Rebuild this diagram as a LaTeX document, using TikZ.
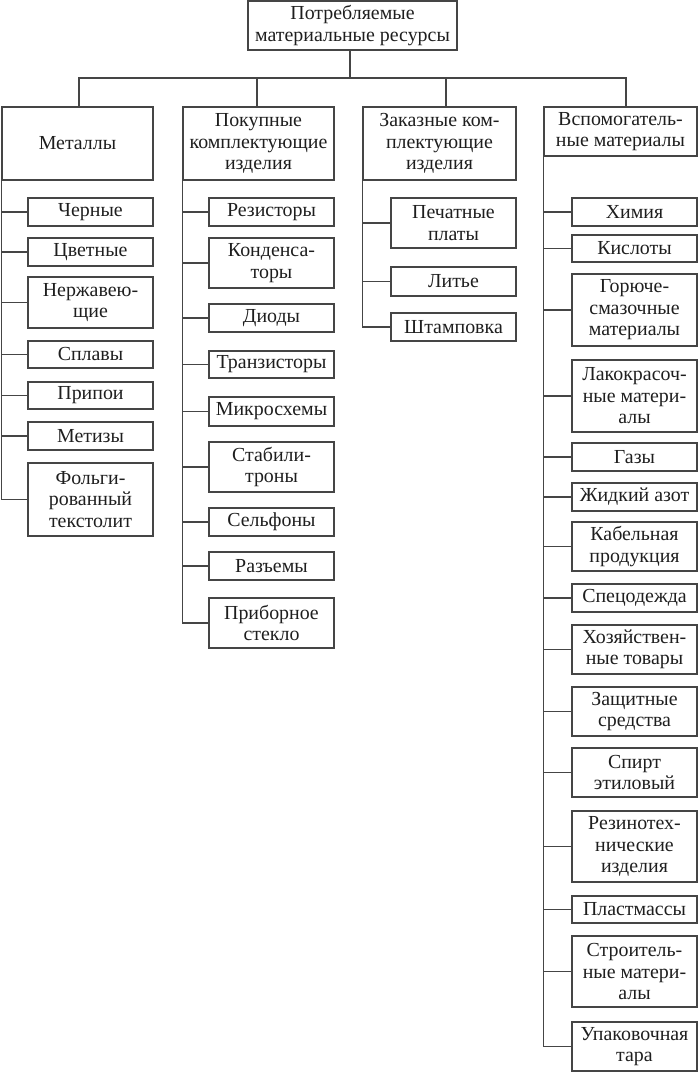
\documentclass[tikz,border=0pt]{standalone}
\usepackage{fontspec}
\setmainfont{Liberation Serif}
\definecolor{linegray}{HTML}{454545}
\definecolor{textgray}{HTML}{1E1E1E}
\newcommand\mybox[6]{\node[box,minimum width=#4pt,minimum height=#5pt] (#1) at (#2,#3) {#6};}
\begin{document}
\begin{tikzpicture}[x=1pt,y=-1pt,
  box/.style={draw=linegray,line width=1.2pt,text=textgray,align=center,inner sep=0pt,
    font=\fontsize{19.9}{21.5}\selectfont},
  conn/.style={draw=linegray,line width=1.2pt}]
\useasboundingbox (0,0) rectangle (698,1072);
% top
\mybox{top}{352.5}{25.5}{209}{49}{Потребляемые\\материальные ресурсы}
% level 1
\mybox{met}{77.5}{143.5}{151}{73}{Металлы}
\mybox{pok}{258.5}{143.5}{151}{73}{Покупные\\комплектующие\\изделия}
\mybox{zak}{439.5}{143.5}{153}{73}{Заказные ком-\\плектующие\\изделия}
\mybox{vsp}{620.5}{131.5}{153}{49}{Вспомогатель-\\ные материалы}
% bus
\coordinate (bus) at (0,78);
\draw[conn] ([xshift=-2.5pt]top.south) -- ([xshift=-2.5pt]top.south |- bus);
\draw[conn] ([xshift=1.5pt]met.north) -- ([xshift=1.5pt]met.north |- bus) -- ([xshift=5.5pt]vsp.north |- bus) -- ([xshift=5.5pt]vsp.north);
\draw[conn] ([xshift=-1.5pt]pok.north) -- ([xshift=-1.5pt]pok.north |- bus);
\draw[conn] ([xshift=6.5pt]zak.north) -- ([xshift=6.5pt]zak.north |- bus);
% metals
\mybox{m1}{90.5}{212}{125}{28}{Черные}
\mybox{m2}{90.5}{252}{125}{28}{Цветные}
\mybox{m3}{90.5}{302.5}{125}{51}{Нержавею-\\щие}
\mybox{m4}{90.5}{354.5}{125}{27}{Сплавы}
\mybox{m5}{90.5}{395.5}{125}{27}{Припои}
\mybox{m6}{90.5}{436}{125}{28}{Метизы}
\mybox{m7}{90.5}{499.5}{125}{73}{Фольги-\\рованный\\текстолит}
\foreach \c in {m1,m2,m3,m4,m5,m6,m7} \draw[conn] (met.south west) |- (\c.west);
% purchased
\mybox{p1}{271.5}{212}{125}{28}{Резисторы}
\mybox{p2}{271.5}{263}{125}{50}{Конденса-\\торы}
\mybox{p3}{271.5}{318}{125}{28}{Диоды}
\mybox{p4}{271.5}{364.5}{125}{27}{Транзисторы}
\mybox{p5}{271.5}{411.5}{125}{29}{Микросхемы}
\mybox{p6}{271.5}{467}{125}{50}{Стабили-\\троны}
\mybox{p7}{271.5}{522}{125}{28}{Сельфоны}
\mybox{p8}{271.5}{566}{125}{28}{Разъемы}
\mybox{p9}{271.5}{623}{125}{50}{Приборное\\стекло}
\foreach \c in {p1,p2,p3,p4,p5,p6,p7,p8,p9} \draw[conn] (pok.south west) |- (\c.west);
% ordered
\mybox{z1}{453.5}{223}{125}{50}{Печатные\\платы}
\mybox{z2}{453.5}{281.5}{125}{29}{Литье}
\mybox{z3}{453.5}{327}{125}{28}{Штамповка}
\foreach \c in {z1,z2,z3} \draw[conn] (zak.south west) |- (\c.west);
% auxiliary
\mybox{v1}{634.5}{212}{125}{28}{Химия}
\mybox{v2}{634.5}{248.5}{125}{27}{Кислоты}
\mybox{v3}{634.5}{310}{125}{72}{Горюче-\\смазочные\\материалы}
\mybox{v4}{634.5}{396}{125}{72}{Лакокрасоч-\\ные матери-\\алы}
\mybox{v5}{634.5}{457}{125}{28}{Газы}
\mybox{v6}{634.5}{497}{125}{28}{Жидкий азот}
\mybox{v7}{634.5}{546.5}{125}{49}{Кабельная\\продукция}
\mybox{v8}{634.5}{598}{125}{28}{Спецодежда}
\mybox{v9}{634.5}{649.5}{125}{49}{Хозяйствен-\\ные товары}
\mybox{v10}{634.5}{711.5}{125}{49}{Защитные\\средства}
\mybox{v11}{634.5}{772.5}{125}{49}{Спирт\\этиловый}
\mybox{v12}{634.5}{846.5}{125}{71}{Резинотех-\\нические\\изделия}
\mybox{v13}{634.5}{909.5}{125}{27}{Пластмассы}
\mybox{v14}{634.5}{971.5}{125}{71}{Строитель-\\ные матери-\\алы}
\mybox{v15}{634.5}{1046.5}{125}{49}{Упаковочная\\тара}
\foreach \c in {v1,v2,v3,v4,v5,v6,v7,v8,v9,v10,v11,v12,v13,v14,v15} \draw[conn] (vsp.south west) |- (\c.west);
\end{tikzpicture}
\end{document}
